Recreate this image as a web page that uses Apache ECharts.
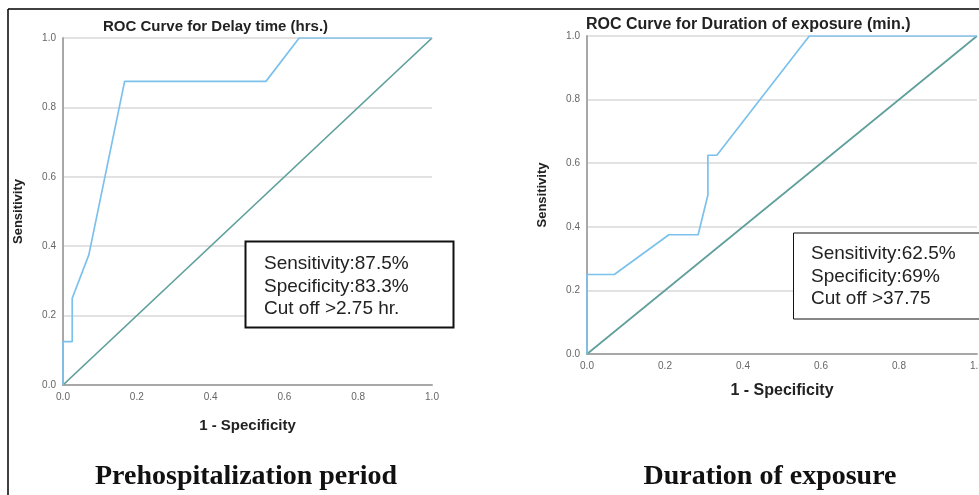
<!DOCTYPE html>
<html>
<head>
<meta charset="utf-8">
<script src="https://cdn.jsdelivr.net/npm/echarts@6/dist/echarts.min.js"></script>
<style>
html,body{margin:0;padding:0;background:#fff;}
#c{width:979px;height:495px;}
</style>
</head>
<body>
<div id="c"></div>
<script>
// ---- Data ----
const ticks = [0, 0.2, 0.4, 0.6, 0.8, 1.0];
const delayFPR  = [0, 0, 0.025, 0.025, 0.07, 0.167, 0.55, 0.64, 1];
const delaySens = [0, 0.125, 0.125, 0.25, 0.375, 0.875, 0.875, 1, 1];
const expoFPR  = [0, 0, 0.07, 0.21, 0.285, 0.31, 0.31, 0.333, 0.57, 1];
const expoSens = [0, 0.25, 0.25, 0.375, 0.375, 0.5, 0.625, 0.625, 1, 1];
const refX = [0, 1];
const refY = [0, 1];
const titles = ['ROC Curve for Delay time (hrs.)', 'ROC Curve for Duration of exposure (min.)'];
const boxText1 = ['Sensitivity:87.5%', 'Specificity:83.3%', 'Cut off >2.75 hr.'];
const boxText2 = ['Sensitivity:62.5%', 'Specificity:69%', 'Cut off >37.75'];
const captions = ['Prehospitalization period', 'Duration of exposure'];

const pair = (xs, ys) => xs.map((x, i) => [x, ys[i]]);
const chart = echarts.init(document.getElementById('c'), null, {renderer: 'canvas'});

const blue = '#7cc1ec';
const teal = '#5e9f9b';
const sans = 'Liberation Sans, Arial, sans-serif';

function xAxis(gi, gap, fs) {
  return {
    type: 'value', gridIndex: gi, min: 0, max: 1, interval: 0.2,
    name: '1 - Specificity', nameLocation: 'middle', nameGap: gap,
    nameTextStyle: {fontFamily: sans, fontSize: fs, fontWeight: 'bold', color: '#222'},
    axisLine: {show: true, lineStyle: {color: '#a8a8a8', width: 2}},
    axisTick: {show: false},
    axisLabel: {fontFamily: sans, fontSize: 10, color: '#666', margin: 7, formatter: v => v.toFixed(1)},
    splitLine: {show: false}
  };
}
function yAxis(gi, gap) {
  return {
    type: 'value', gridIndex: gi, min: 0, max: 1, interval: 0.2,
    name: 'Sensitivity', nameLocation: 'middle', nameGap: gap,
    nameTextStyle: {fontFamily: sans, fontSize: 13, fontWeight: 'bold', color: '#222'},
    axisLine: {show: true, lineStyle: {color: '#a8a8a8', width: 2}},
    axisTick: {show: false},
    axisLabel: {fontFamily: sans, fontSize: 10, color: '#666', margin: 7, formatter: v => v.toFixed(1)},
    splitLine: {show: true, lineStyle: {color: '#d9d9d9', width: 1.5}}
  };
}
function line(data, color, xi) {
  return {
    type: 'line', xAxisIndex: xi, yAxisIndex: xi, data: data,
    showSymbol: false, symbol: 'none', lineStyle: {color: color, width: 1.7},
    animation: false, z: 3
  };
}
function boxGraphic(x, y, w, h, lw, lines, tx, ty, lh) {
  const els = [{
    type: 'rect', shape: {x: x, y: y, width: w, height: h},
    style: {fill: '#fff', stroke: '#111', lineWidth: lw}, z: 10
  }];
  lines.forEach((t, i) => {
    els.push({
      type: 'text', x: tx, y: ty + i * lh, z: 11,
      style: {text: t, fontFamily: sans, fontSize: 19, fill: '#222', textVerticalAlign: 'middle'}
    });
  });
  return els;
}

const graphics = [
  {type: 'line', shape: {x1: 8, y1: 9, x2: 979, y2: 9}, style: {stroke: '#000', lineWidth: 1.5}, z: 20},
  {type: 'line', shape: {x1: 8, y1: 9, x2: 8, y2: 495}, style: {stroke: '#000', lineWidth: 1.5}, z: 20},
  ...boxGraphic(245.5, 241.5, 208, 86, 2, boxText1, 264, 264, 22.5),
  ...boxGraphic(793.5, 233, 200, 86, 1, boxText2, 811, 254, 22.5),
  {type: 'text', x: 246, y: 477, z: 11,
   style: {text: captions[0], fontFamily: 'Liberation Serif, Times New Roman, serif', fontSize: 28, fontWeight: 'bold', fill: '#111', textAlign: 'center', textVerticalAlign: 'middle'}},
  {type: 'text', x: 770, y: 477, z: 11,
   style: {text: captions[1], fontFamily: 'Liberation Serif, Times New Roman, serif', fontSize: 28, fontWeight: 'bold', fill: '#111', textAlign: 'center', textVerticalAlign: 'middle'}}
];

chart.setOption({
  animation: false,
  backgroundColor: '#fff',
  title: [
    {text: titles[0], left: 103, top: 19, textStyle: {fontFamily: sans, fontSize: 15, fontWeight: 'bold', color: '#222'}, padding: 0},
    {text: titles[1], left: 586, top: 17, textStyle: {fontFamily: sans, fontSize: 16, fontWeight: 'bold', color: '#222'}, padding: 0}
  ],
  grid: [
    {left: 63, right: 547, top: 38, bottom: 110, containLabel: false, outerBoundsMode: 'none'},
    {left: 587, right: 2, top: 36, bottom: 141, containLabel: false, outerBoundsMode: 'none'}
  ],
  xAxis: [xAxis(0, 33, 15), xAxis(1, 29, 16)],
  yAxis: [yAxis(0, 38), yAxis(1, 38)],
  series: [
    line(pair(refX, refY), teal, 0),
    line(pair(delayFPR, delaySens), blue, 0),
    line(pair(refX, refY), teal, 1),
    line(pair(expoFPR, expoSens), blue, 1)
  ],
  graphic: graphics
});
</script>
</body>
</html>
